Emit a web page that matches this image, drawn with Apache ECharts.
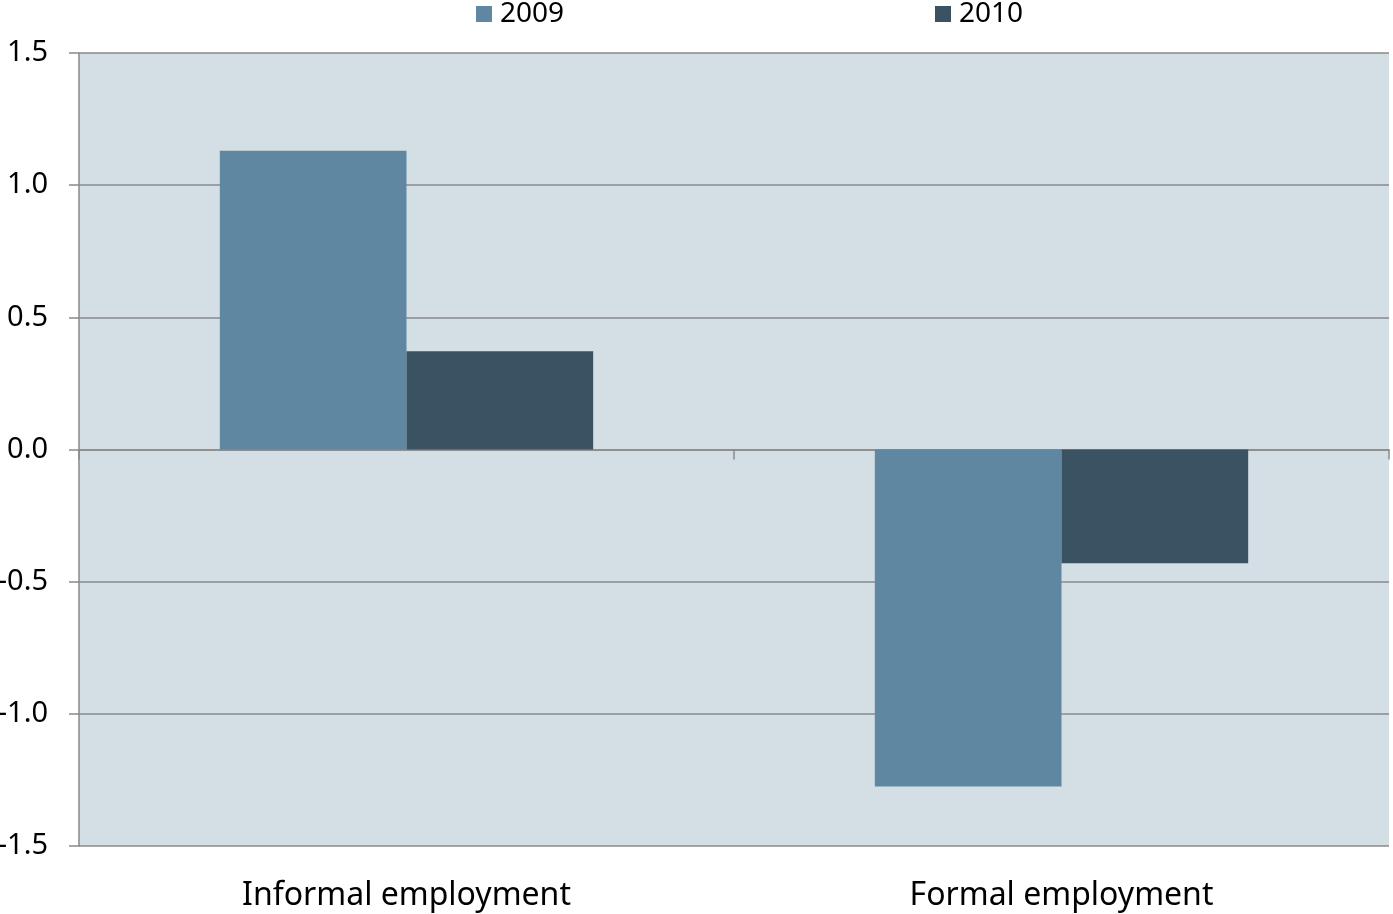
<!DOCTYPE html>
<html><head><meta charset="utf-8">
<script src="https://cdn.jsdelivr.net/npm/echarts@6/dist/echarts.min.js"></script>
<style>html,body{margin:0;padding:0;background:#fff}#c{width:1393px;height:914px}</style>
</head><body><div id="c"></div>
<script>
const categories = ["Informal employment", "Formal employment"];
const seriesNames = ["2009", "2010"];
const values2009 = [1.13, -1.275];
const values2010 = [0.372, -0.43];
const yTicks = [-1.5, -1.0, -0.5, 0.0, 0.5, 1.0, 1.5];

const FONT = "Noto Sans";
const chart = echarts.init(document.getElementById('c'), null, {renderer: 'canvas'});
chart.setOption({
  animation: false,
  backgroundColor: '#ffffff',
  textStyle: {fontFamily: FONT},
  legend: [
    {data: [seriesNames[0]], left: 476, top: 0, padding: 0, itemWidth: 16, itemHeight: 16, icon: 'rect',
     textStyle: {fontSize: 28, color: '#000', fontFamily: FONT, padding: [0,0,0,3]}},
    {data: [seriesNames[1]], left: 935, top: 0, padding: 0, itemWidth: 16, itemHeight: 16, icon: 'rect',
     textStyle: {fontSize: 28, color: '#000', fontFamily: FONT, padding: [0,0,0,3]}}
  ],
  grid: {left: 79, right: 4, top: 53, bottom: 68, show: true, backgroundColor: '#d4dee5', borderWidth: 0,
         containLabel: false, outerBoundsMode: 'none'},
  xAxis: [
    {type: 'category', data: categories, position: 'bottom',
     axisLine: {show: false, onZero: false}, axisTick: {show: false},
     axisLabel: {fontSize: 32, color: '#000', margin: 34, fontFamily: FONT}},
    {type: 'category', data: categories, position: 'bottom',
     axisLine: {show: true, onZero: true, lineStyle: {color: '#8a8a8a', width: 1.5}},
     axisTick: {show: true, length: 10, lineStyle: {color: '#8a8a8a', width: 1.5}},
     axisLabel: {show: false}}
  ],
  yAxis: {
    type: 'value', min: -1.5, max: 1.5, interval: 0.5,
    axisLine: {show: true, lineStyle: {color: '#8a8a8a', width: 1.5}},
    axisTick: {show: true, length: 10, lineStyle: {color: '#8a8a8a', width: 1.5}},
    splitLine: {show: true, lineStyle: {color: '#8a8a8a', width: 1.5}},
    axisLabel: {fontSize: 29, color: '#000', margin: 31, fontFamily: FONT,
      formatter: v => { const t = yTicks.find(x => Math.abs(x - v) < 1e-9); return (t !== undefined ? t : v).toFixed(1); }}
  },
  series: [
    {name: seriesNames[0], type: 'bar', xAxisIndex: 0, data: values2009, barGap: '0%', barCategoryGap: '43%',
     itemStyle: {color: '#5f87a1'}},
    {name: seriesNames[1], type: 'bar', xAxisIndex: 0, data: values2010, barGap: '0%', barCategoryGap: '43%',
     itemStyle: {color: '#3b5263'}}
  ]
});
</script></body></html>
